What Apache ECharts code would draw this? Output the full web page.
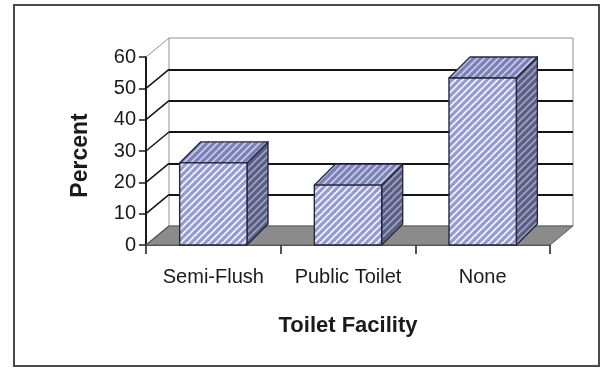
<!DOCTYPE html>
<html><head><meta charset="utf-8">
<script src="https://cdn.jsdelivr.net/npm/echarts@6/dist/echarts.min.js"></script>
<style>html,body{margin:0;padding:0;background:#fff}#c{width:602px;height:368px}</style>
</head><body><div id="c"></div><script>
// ---- data ----
const categories = ['Semi-Flush', 'Public Toilet', 'None'];
const percentValues = [26.2, 19.1, 53.3];
const yTickValues = [0, 10, 20, 30, 40, 50, 60];
const yMin = 0, yMax = 60, yStep = 10;

// ---- style / layout ----
const FONT = '"Liberation Sans", Arial, sans-serif';
const FRONT = { left: 146, top: 57, width: 404, height: 188 };
const WALL_DX = 23, WALL_DY = -19;
const BAR_DX = 21, BAR_DY = -21;

function stripes(base, line, size, lw) {
  const c = document.createElement('canvas'); c.width = size; c.height = size;
  const g = c.getContext('2d'); g.fillStyle = base; g.fillRect(0, 0, size, size);
  g.strokeStyle = line; g.lineWidth = lw; g.lineCap = 'square';
  for (const k of [-1, 0, 1]) { g.beginPath(); g.moveTo(k * size - size, 2 * size); g.lineTo(k * size + 2 * size, -size); g.stroke(); }
  return { image: c, repeat: 'repeat' };
}
const frontPat = stripes('#f2f3fc', '#959bd0', 7, 3.2);
const topPat = stripes('#c8cbe6', '#7a80b4', 7, 3.2);
const sidePat = stripes('#a0a3c0', '#5a5e84', 7, 3.2);

const chart = echarts.init(document.getElementById('c'), null, { renderer: 'canvas' });

function leftEdge(api) {
  const bw = api.size([1, 0])[0];
  return api.coord([0, 0])[0] - bw / 2;
}

chart.setOption({
  animation: false,
  backgroundColor: '#fff',
  textStyle: { fontFamily: FONT },
  graphic: { elements: [{ type: 'rect', shape: { x: 14, y: 5, width: 585, height: 361 }, style: { fill: null, stroke: '#4a4a4a', lineWidth: 2 }, z: 10 }] },
  grid: [
    { left: FRONT.left, top: FRONT.top, width: FRONT.width, height: FRONT.height, show: false },
    { left: FRONT.left + WALL_DX, top: FRONT.top + WALL_DY, width: FRONT.width, height: FRONT.height, show: true, borderColor: '#8f8f8f', borderWidth: 1, backgroundColor: 'transparent' }
  ],
  xAxis: [
    { gridIndex: 0, type: 'category', data: categories,
      axisLine: { lineStyle: { color: '#1a1a1a', width: 1.5 } },
      axisTick: { show: true, interval: 0, length: 9, lineStyle: { color: '#1a1a1a', width: 1.5 } },
      axisLabel: { interval: 0, fontSize: 20, color: '#1a1a1a', margin: 22, fontFamily: FONT },
      name: 'Toilet Facility', nameLocation: 'middle', nameGap: 70,
      nameTextStyle: { fontSize: 22, fontWeight: 'bold', color: '#1a1a1a', fontFamily: FONT } },
    { gridIndex: 1, type: 'value', min: 0, max: 1, show: false }
  ],
  yAxis: [
    { gridIndex: 0, type: 'value', min: yMin, max: yMax, interval: yStep,
      axisLine: { show: true, lineStyle: { color: '#1a1a1a', width: 2 } },
      axisTick: { show: true, length: 7, lineStyle: { color: '#1a1a1a', width: 1.5 } },
      axisLabel: { fontSize: 20, color: '#1a1a1a', margin: 10, fontFamily: FONT },
      splitLine: { show: false },
      name: 'Percent', nameLocation: 'middle', nameGap: 54, nameRotate: 90,
      nameTextStyle: { fontSize: 23, fontWeight: 'bold', color: '#1a1a1a', fontFamily: FONT, padding: [0, 9, 0, 0] } },
    { gridIndex: 1, type: 'value', min: yMin, max: yMax, interval: yStep,
      axisLine: { show: false }, axisTick: { show: false }, axisLabel: { show: false },
      splitLine: { show: true, showMinLine: false, showMaxLine: false, lineStyle: { color: '#151515', width: 2 } } }
  ],
  series: [
    { type: 'custom', xAxisIndex: 0, yAxisIndex: 0, z: 1, silent: true,
      data: [[0, 0]],
      renderItem: function (params, api) {
        const bw = api.size([1, 0])[0];
        const p0 = api.coord([0, 0]);
        const left = p0[0] - bw / 2;
        const right = api.coord([categories.length - 1, 0])[0] + bw / 2;
        const y = p0[1];
        return { type: 'polygon', shape: { points: [[left, y], [right, y], [right + WALL_DX, y + WALL_DY], [left + WALL_DX, y + WALL_DY]] },
          style: { fill: '#8b8b8b', stroke: '#5a5a5a', lineWidth: 1 } };
      } },
    { type: 'custom', xAxisIndex: 0, yAxisIndex: 0, z: 2, silent: true,
      data: yTickValues.map(v => [0, v]),
      renderItem: function (params, api) {
        const v = api.value(1);
        const left = leftEdge(api);
        const y = api.coord([0, v])[1];
        const top = v === yMax;
        return { type: 'line', shape: { x1: left, y1: y, x2: left + WALL_DX, y2: y + WALL_DY },
          style: { stroke: top ? '#8f8f8f' : (v === yMin ? '#5a5a5a' : '#151515'), lineWidth: top ? 1 : 1.5 } };
      } },
    { type: 'custom', xAxisIndex: 0, yAxisIndex: 0, z: 3, silent: true,
      data: percentValues.map((v, i) => [i, v]),
      renderItem: function (params, api) {
        const i = api.value(0), v = api.value(1);
        const top = api.coord([i, v]);
        const base = api.coord([i, 0]);
        const bw = api.size([1, 0])[0] * 0.5;
        const x0 = top[0] - bw / 2, x1 = top[0] + bw / 2, yt = top[1], yb = base[1];
        const edge = { stroke: '#262840', lineWidth: 1.4, lineJoin: 'round' };
        return { type: 'group', children: [
          { type: 'polygon', shape: { points: [[x1, yb], [x1 + BAR_DX, yb + BAR_DY], [x1 + BAR_DX, yt + BAR_DY], [x1, yt]] }, style: Object.assign({ fill: sidePat }, edge) },
          { type: 'polygon', shape: { points: [[x0, yt], [x1, yt], [x1 + BAR_DX, yt + BAR_DY], [x0 + BAR_DX, yt + BAR_DY]] }, style: Object.assign({ fill: topPat }, edge) },
          { type: 'rect', shape: { x: x0, y: yt, width: bw, height: yb - yt }, style: Object.assign({ fill: frontPat }, edge) }
        ] };
      } }
  ]
});
</script></body></html>
